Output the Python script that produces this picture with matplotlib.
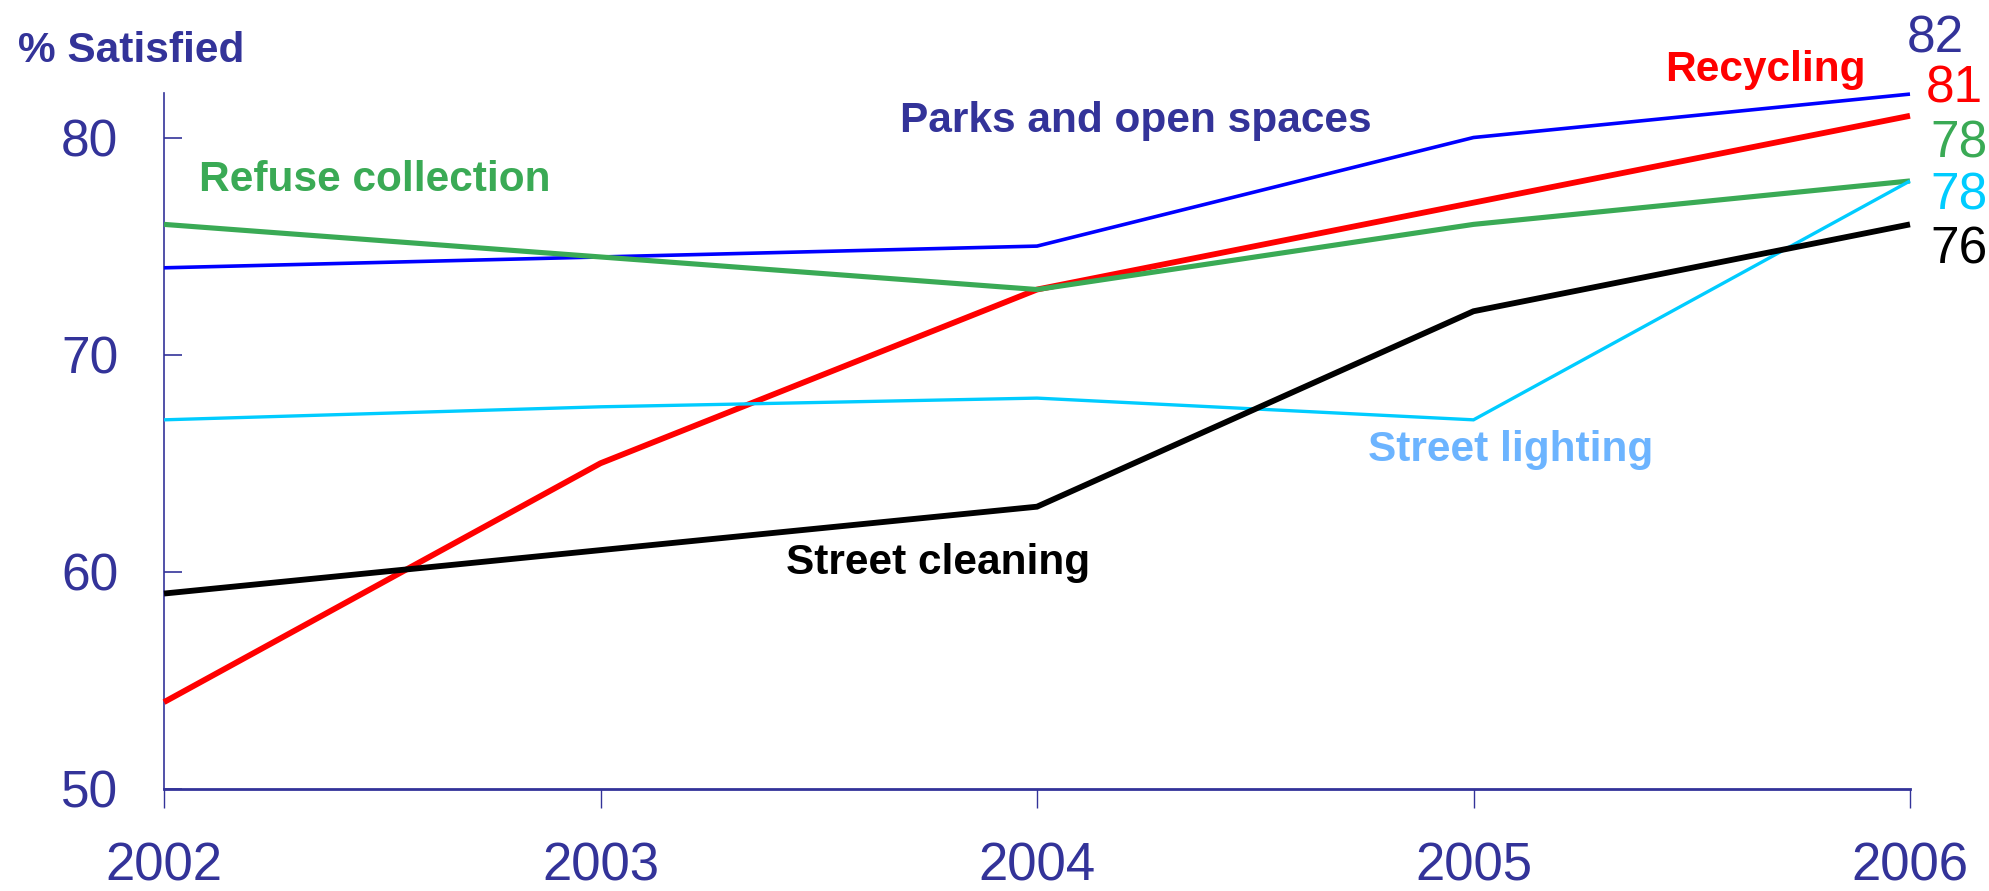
import matplotlib
matplotlib.use("Agg")
import matplotlib.pyplot as plt

plt.rcParams['font.family'] = ['Liberation Sans', 'DejaVu Sans']

years = [2002, 2003, 2004, 2005, 2006]
parks = [74, 74.5, 75, 80, 82]
recycling = [54, 65, 73, 77, 81]
refuse = [76, 74.5, 73, 76, 78]
lighting = [67, 67.6, 68, 67, 78]
cleaning = [59, 61, 63, 72, 76]

series_names = ["Parks and open spaces", "Recycling", "Refuse collection",
                "Street lighting", "Street cleaning"]
end_labels = ["82", "81", "78", "78", "76"]
yticks = [50, 60, 70, 80]

NAVY = "#333399"
line_colors = ["#0000FF", "#FF0000", "#3AAA55", "#00CCFF", "#000000"]
line_widths = [2.6, 4.2, 3.7, 2.4, 4.2]
end_label_colors = [NAVY, "#FF0000", "#3AAA55", "#00CCFF", "#000000"]
name_colors = [NAVY, "#FF0000", "#3AAA55", "#6CB4FF", "#000000"]
# label anchors (data coords, baseline)
name_pos = [(2003.686, 80.26), (2005.439, 82.61), (2002.08, 77.55),
            (2004.758, 65.09), (2003.425, 59.88)]
# end label offsets in pixels (dx, dy) from last point, baseline anchored
end_offsets = [(-3, 42), (16, 13), (20, 23), (20, -29), (20, -39)]

fig = plt.figure(figsize=(19.9, 8.91), dpi=100)
ax = fig.add_axes([164/1990, 1-789/891, (1910-164)/1990, (789-93)/891])

all_series = [parks, recycling, refuse, lighting, cleaning]
for vals, c, lw in zip(all_series, line_colors, line_widths):
    ax.plot(years, vals, color=c, lw=lw, solid_capstyle='butt',
            solid_joinstyle='miter', clip_on=False, zorder=3)

for vals, lab, c, (dx, dy) in zip(all_series, end_labels, end_label_colors, end_offsets):
    ax.annotate(lab, xy=(years[-1], vals[-1]), xytext=(dx, dy),
                textcoords='offset pixels', ha='left', va='baseline',
                fontsize=37, color=c, annotation_clip=False)

for name, c, (x, y) in zip(series_names, name_colors, name_pos):
    ax.text(x, y, name, color=c, fontsize=30.5, fontweight='bold',
            ha='left', va='baseline')

ax.set_xlim(years[0], years[-1])
ax.set_ylim(50, 82.05)
ax.set_xticks(years)
ax.set_xticklabels([str(y) for y in years])
ax.set_yticks(yticks)
ax.set_yticklabels([str(v) for v in yticks])

for s in ['top', 'right']:
    ax.spines[s].set_visible(False)
ax.spines['left'].set_color(NAVY)
ax.spines['left'].set_linewidth(1.2)
ax.spines['bottom'].set_color(NAVY)
ax.spines['bottom'].set_linewidth(2.0)

ax.tick_params(axis='x', direction='out', length=13.7, width=1.0, color=NAVY,
               labelsize=38, labelcolor=NAVY, pad=24)
ax.tick_params(axis='y', direction='in', length=13, width=1.2, color=NAVY,
               labelsize=37, labelcolor=NAVY, pad=33)

fig.text(18/1990, 1-51/891, "% Satisfied", color=NAVY, fontsize=30.5,
         fontweight='bold', ha='left', va='center')

fig.savefig("out.png", dpi=100)
